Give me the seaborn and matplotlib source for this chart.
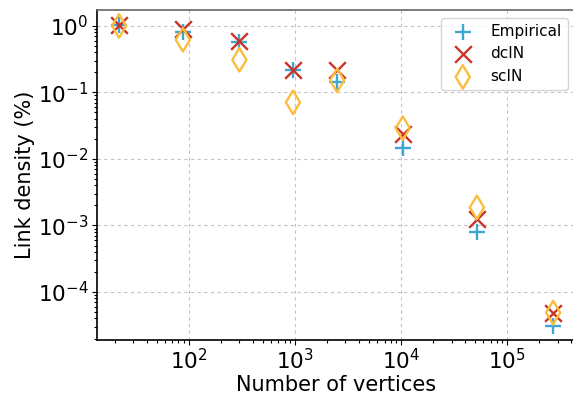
import matplotlib
matplotlib.use("Agg")
import matplotlib.pyplot as plt
from matplotlib.ticker import LogLocator, NullFormatter
import seaborn as sns
import pandas as pd

# Network sizes (number of vertices) and link densities (%) per model
vertices = [22, 88, 300, 960, 2500, 10400, 52000, 272000]
empirical = [1.05, 0.82, 0.58, 0.215, 0.145, 0.0146, 0.00079, 3.1e-5]
dcin = [1.05, 0.90, 0.60, 0.22, 0.22, 0.0238, 0.00125, 4.8e-5]
scin = [1.0, 0.62, 0.31, 0.071, 0.152, 0.029, 0.00187, 4.9e-5]

series_names = ["Empirical", "dcIN", "scIN"]
series_values = [empirical, dcin, scin]

plt.rcParams["font.family"] = ["DejaVu Sans"]
plt.rcParams["text.color"] = "black"

fig = plt.figure(figsize=(5.73, 3.97), dpi=100)
ax = fig.add_axes([0.169, 0.1436, 0.835, 0.8314])

styles = {
    "Empirical": dict(marker="+", color="#3ea6d3"),
    "dcIN": dict(marker="x", color="#c9332a"),
    "scIN": dict(marker="d", color="#fbbd3c"),
}

for name, vals in zip(series_names, series_values):
    df = pd.DataFrame({"vertices": vertices, "density": vals})
    st = styles[name]
    if st["marker"] == "d":
        sns.scatterplot(data=df, x="vertices", y="density", ax=ax,
                        marker="d", s=144, facecolors="none",
                        edgecolor=st["color"], linewidth=1.7, label=name, zorder=3)
    else:
        sns.scatterplot(data=df, x="vertices", y="density", ax=ax,
                        marker=st["marker"], s=144, color=st["color"],
                        linewidth=1.7, label=name, zorder=3)

ax.set_xscale("log")
ax.set_yscale("log")
ax.set_xlim(13.6, 4.4e5)
ax.set_ylim(1.9e-5, 1.74)
for axis in (ax.xaxis, ax.yaxis):
    axis.set_minor_locator(LogLocator(base=10, subs=range(2, 10), numticks=100))
    axis.set_minor_formatter(NullFormatter())

ax.grid(True, which="major", linestyle=(0, (3, 3)), color="#c4c4c4", linewidth=0.8)
ax.set_axisbelow(True)

ax.set_xlabel("Number of vertices", fontsize=15, labelpad=1)
ax.set_ylabel("Link density (%)", fontsize=15, labelpad=2)
ax.tick_params(axis="both", which="major", labelsize=15.5, length=3.5, pad=2.5,
               color="black", labelcolor="black")
ax.tick_params(axis="both", which="minor", length=2, width=0.8, color="black")

for side in ["left", "bottom"]:
    ax.spines[side].set_color("black")
    ax.spines[side].set_linewidth(1.2)
ax.spines["top"].set_color("#666666")
ax.spines["top"].set_linewidth(1.2)
ax.spines["right"].set_visible(False)

leg = ax.legend(loc="upper right", fontsize=11, frameon=True, framealpha=0.8)
leg.get_frame().set_edgecolor("#cccccc")

fig.savefig("out.png", dpi=100)
